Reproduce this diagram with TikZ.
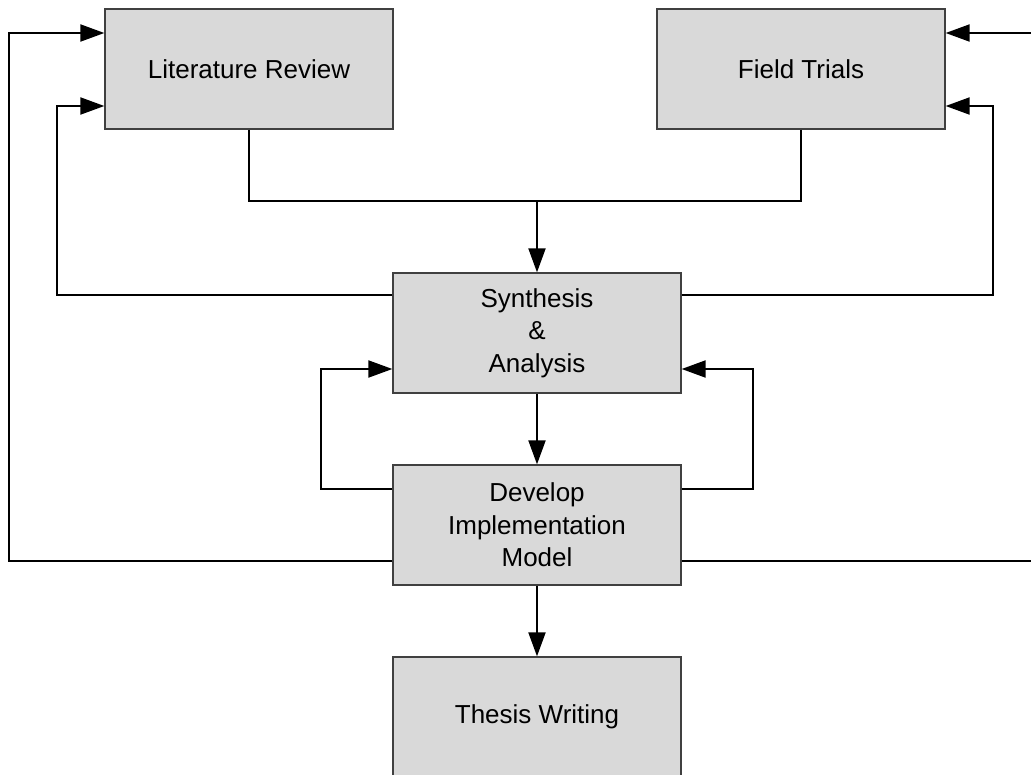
\documentclass[tikz,border=0pt]{standalone}
\usepackage{fontspec}
\setmainfont{Liberation Sans}
\usetikzlibrary{arrows.meta}
\begin{document}
\begin{tikzpicture}[x=1pt,y=-1pt,
  stage/.style={draw=black!75,line width=1.3pt,fill=black!15,minimum width=288pt,minimum height=120pt,
    inner sep=0pt,align=center,font=\fontsize{26}{32.5}\selectfont},
  link/.style={draw=black,line width=2pt},
  arr/.style={link,-{Triangle[length=24pt,width=17pt]}}]
\useasboundingbox (0,0) rectangle (1031,774);

\node[stage] (lit) at (249,69) {Literature Review};
\node[stage] (ft)  at (801,69) {Field Trials};
\node[stage] (syn) at (537,333) {Synthesis\\\&\\Analysis};
\node[stage] (dev) at (537,525) {Develop\\Implementation\\Model};
\node[stage] (tw)  at (537,717) {Thesis Writing};

\coordinate (join) at (537,201);

% inputs merge into synthesis
\draw[link] (lit.south) |- (join);
\draw[link] (ft.south) |- (join);
\draw[arr] (join) -- (syn.north);

% synthesis feeds back to sources
\draw[arr] (syn.west |- 0,295) -- (57,295) |- (lit.west |- 0,106);
\draw[arr] (syn.east |- 0,295) -- (993,295) |- (ft.east |- 0,106);

% synthesis <-> development
\draw[arr] (syn.south) -- (dev.north);
\draw[arr] (dev.west |- 0,489) -- (321,489) |- (syn.west |- 0,369);
\draw[arr] (dev.east |- 0,489) -- (753,489) |- (syn.east |- 0,369);

% development feeds back to sources
\draw[arr] (dev.west |- 0,561) -- (9,561) |- (lit.west |- 0,33);
\draw[arr] (dev.east |- 0,561) -- (1036,561) |- (ft.east |- 0,33);

% final stage
\draw[arr] (dev.south) -- (tw.north);
\end{tikzpicture}
\end{document}
